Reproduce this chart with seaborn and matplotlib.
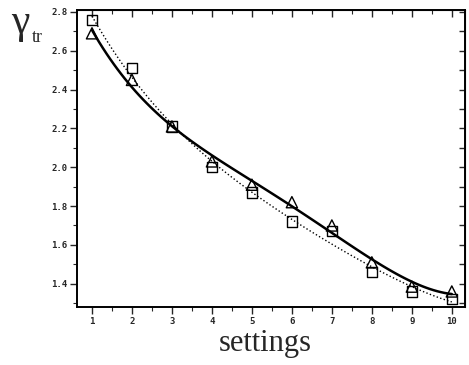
import matplotlib
matplotlib.use("Agg")
import matplotlib.pyplot as plt
import seaborn as sns
import pandas as pd
from matplotlib.ticker import MultipleLocator

settings = [1, 2, 3, 4, 5, 6, 7, 8, 9, 10]
gamma_triangle = [2.69, 2.45, 2.21, 2.03, 1.91, 1.82, 1.70, 1.51, 1.385, 1.36]
gamma_square = [2.76, 2.51, 2.21, 2.00, 1.87, 1.72, 1.67, 1.46, 1.36, 1.32]
y_ticks = [1.4, 1.6, 1.8, 2.0, 2.2, 2.4, 2.6, 2.8]
x_ticks = settings

df = pd.DataFrame({"settings": settings, "tri": gamma_triangle, "sq": gamma_square})

sns.set_style("ticks")
fig = plt.figure(figsize=(4.69, 3.65), dpi=100)
ax = fig.add_axes([77/469, 1 - 307/365, (465 - 77)/469, (307 - 10)/365])

sns.regplot(data=df, x="settings", y="tri", order=4, ci=None, scatter=False, ax=ax,
            line_kws=dict(color="black", lw=1.8, ls="-"))
sns.regplot(data=df, x="settings", y="sq", order=4, ci=None, scatter=False, ax=ax,
            line_kws=dict(color="black", lw=1.0, ls=":"))
sns.scatterplot(data=df, x="settings", y="tri", marker="^", s=65, facecolor="none",
                edgecolor="black", linewidth=1.0, ax=ax, zorder=5)
sns.scatterplot(data=df, x="settings", y="sq", marker="s", s=55, facecolor="none",
                edgecolor="black", linewidth=1.0, ax=ax, zorder=5)

ax.set_xlim(0.625, 10.33)
ax.set_ylim(1.28, 2.81)
ax.set_xticks(x_ticks)
ax.set_yticks(y_ticks)
ax.xaxis.set_minor_locator(MultipleLocator(0.5))
ax.yaxis.set_minor_locator(MultipleLocator(0.1))
ax.set_xticklabels([str(v) for v in x_ticks], family="DejaVu Sans Mono", fontsize=6.5, fontweight="bold")
ax.set_yticklabels([f"{v:.1f}" for v in y_ticks],
                   family="DejaVu Sans Mono", fontsize=6.5, fontweight="bold")
ax.tick_params(which="major", direction="out", length=5, width=1.0, pad=2)
ax.tick_params(which="minor", direction="out", length=3, width=0.8)
ax.set_xlabel("")
ax.set_ylabel("")

for s in ax.spines.values():
    s.set_visible(True)
    s.set_linewidth(1.4)
    s.set_color("black")

secx = ax.secondary_xaxis("top")
secx.set_xticks(x_ticks)
secx.xaxis.set_minor_locator(MultipleLocator(0.5))
secx.tick_params(which="major", direction="in", length=5, width=1.0, labeltop=False)
secx.tick_params(which="minor", direction="in", length=3, width=0.8)
secx.set_xticklabels([])
secy = ax.secondary_yaxis("right")
secy.set_yticks(y_ticks)
secy.yaxis.set_minor_locator(MultipleLocator(0.1))
secy.tick_params(which="both", direction="in", length=4, width=1.0, labelright=False)
secy.set_yticklabels([])

fig.text(265/469, 1 - 344/365, "settings", family="Liberation Serif", fontsize=22,
         ha="center", va="center")
fig.text(11/469, 1 - 23/365, "γ", family="Liberation Serif", fontsize=30,
         ha="left", va="center")
fig.text(32/469, 1 - 37/365, "tr", family="Liberation Serif", fontsize=13,
         ha="left", va="center")

fig.savefig("out.png", dpi=100)
